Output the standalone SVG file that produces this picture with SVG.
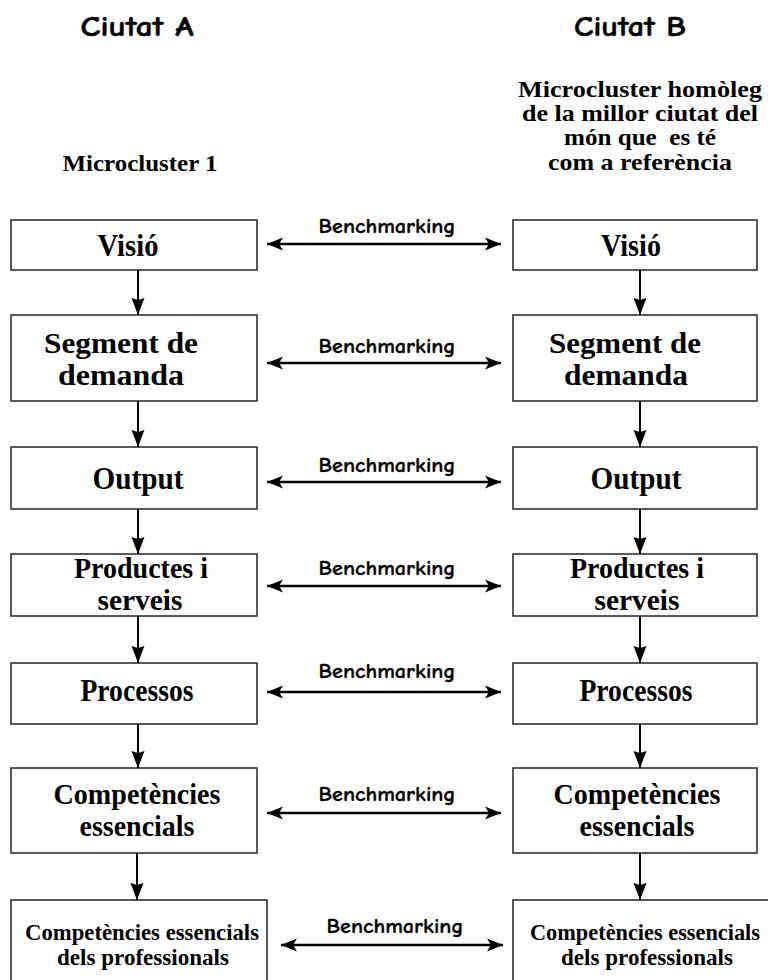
<svg xmlns="http://www.w3.org/2000/svg" width="768" height="980" viewBox="0 0 768 980">
<style>
.box{fill:#fff;stroke:#222;stroke-width:1.5}
.lbl{font-family:"Liberation Serif","Times New Roman",serif;font-weight:bold;font-size:31px;fill:#000;text-anchor:middle}
.two{font-size:29px}
.sm{font-size:23px}
.hd{font-family:"Liberation Serif","Times New Roman",serif;font-weight:bold;font-size:24px;fill:#000;text-anchor:middle}
.comic{font-family:"Comic Sans MS","Comic Neue","DejaVu Sans",sans-serif;font-weight:bold;fill:#000;stroke:#000;text-anchor:middle}
.bm{font-size:21px;stroke-width:0.3}
.city{font-size:29px;stroke-width:0.5}
.hline{stroke:#000;stroke-width:2.5;fill:none;marker-start:url(#hs);marker-end:url(#he)}
.vline{stroke:#000;stroke-width:2;fill:none;marker-end:url(#ve)}
</style>
<defs>
<marker id="he" markerUnits="userSpaceOnUse" markerWidth="18" markerHeight="16" refX="16" refY="7" orient="auto" viewBox="0 0 18 14">
<path d="M16,7 L0,0.5 L4,7 L0,13.5 Z" fill="#000"/>
</marker>
<marker id="hs" markerUnits="userSpaceOnUse" markerWidth="18" markerHeight="16" refX="16" refY="7" orient="auto-start-reverse" viewBox="0 0 18 14">
<path d="M16,7 L0,0.5 L4,7 L0,13.5 Z" fill="#000"/>
</marker>
<marker id="ve" markerUnits="userSpaceOnUse" markerWidth="18" markerHeight="14" refX="17" refY="7" orient="auto" viewBox="0 0 18 14">
<path d="M17,7 L0,0.5 L2,7 L0,13.5 Z" fill="#000"/>
</marker>
</defs>

<g id="header-a">
<text class="comic city" x="137" y="36" textLength="113" lengthAdjust="spacingAndGlyphs">Ciutat A</text>
<text class="hd" x="140" y="171" textLength="155" lengthAdjust="spacingAndGlyphs">Microcluster 1</text>
</g>
<g id="header-b">
<text class="comic city" x="630" y="36" textLength="112" lengthAdjust="spacingAndGlyphs">Ciutat B</text>
<text class="hd" x="640" y="97" textLength="244" lengthAdjust="spacingAndGlyphs">Microcluster homòleg</text>
<text class="hd" x="640" y="121" textLength="236" lengthAdjust="spacingAndGlyphs">de la millor ciutat del</text>
<text class="hd" x="640" y="145" textLength="152" lengthAdjust="spacingAndGlyphs" xml:space="preserve">món que  es té</text>
<text class="hd" x="640" y="170" textLength="184" lengthAdjust="spacingAndGlyphs">com a referència</text>
</g>

<g id="a-visio"><rect class="box" x="11" y="220" width="246" height="50"/><text class="lbl" x="128" y="256" textLength="61" lengthAdjust="spacingAndGlyphs">Visió</text></g>
<g id="a-segment"><rect class="box" x="11" y="315" width="246" height="86"/><text class="lbl two" x="121" y="353" textLength="154" lengthAdjust="spacingAndGlyphs">Segment de</text><text class="lbl two" x="121" y="385" textLength="126" lengthAdjust="spacingAndGlyphs">demanda</text></g>
<g id="a-output"><rect class="box" x="11" y="447" width="246" height="62"/><text class="lbl" x="138" y="489" textLength="91" lengthAdjust="spacingAndGlyphs">Output</text></g>
<g id="a-productes"><rect class="box" x="11" y="554" width="246" height="62"/><text class="lbl two" x="141" y="578" textLength="134" lengthAdjust="spacingAndGlyphs">Productes i</text><text class="lbl two" x="140" y="610" textLength="85" lengthAdjust="spacingAndGlyphs">serveis</text></g>
<g id="a-processos"><rect class="box" x="11" y="663" width="246" height="61"/><text class="lbl" x="137" y="701" textLength="113" lengthAdjust="spacingAndGlyphs">Processos</text></g>
<g id="a-competencies"><rect class="box" x="11" y="768" width="246" height="85"/><text class="lbl two" x="137" y="804" textLength="167" lengthAdjust="spacingAndGlyphs">Competències</text><text class="lbl two" x="137" y="836" textLength="115" lengthAdjust="spacingAndGlyphs">essencials</text></g>
<g id="a-professionals"><rect class="box" x="11" y="900" width="256" height="82"/><text class="lbl sm" x="142" y="940" textLength="234" lengthAdjust="spacingAndGlyphs">Competències essencials</text><text class="lbl sm" x="143" y="965" textLength="172" lengthAdjust="spacingAndGlyphs">dels professionals</text></g>

<g id="b-visio"><rect class="box" x="513" y="220" width="244" height="50"/><text class="lbl" x="631" y="256" textLength="60" lengthAdjust="spacingAndGlyphs">Visió</text></g>
<g id="b-segment"><rect class="box" x="513" y="315" width="244" height="86"/><text class="lbl two" x="625" y="353" textLength="152" lengthAdjust="spacingAndGlyphs">Segment de</text><text class="lbl two" x="626" y="385" textLength="124" lengthAdjust="spacingAndGlyphs">demanda</text></g>
<g id="b-output"><rect class="box" x="513" y="447" width="244" height="62"/><text class="lbl" x="636" y="489" textLength="91" lengthAdjust="spacingAndGlyphs">Output</text></g>
<g id="b-productes"><rect class="box" x="513" y="554" width="244" height="62"/><text class="lbl two" x="637" y="578" textLength="134" lengthAdjust="spacingAndGlyphs">Productes i</text><text class="lbl two" x="637" y="610" textLength="85" lengthAdjust="spacingAndGlyphs">serveis</text></g>
<g id="b-processos"><rect class="box" x="513" y="663" width="244" height="61"/><text class="lbl" x="636" y="701" textLength="113" lengthAdjust="spacingAndGlyphs">Processos</text></g>
<g id="b-competencies"><rect class="box" x="513" y="768" width="244" height="85"/><text class="lbl two" x="637" y="804" textLength="167" lengthAdjust="spacingAndGlyphs">Competències</text><text class="lbl two" x="637" y="836" textLength="115" lengthAdjust="spacingAndGlyphs">essencials</text></g>
<g id="b-professionals"><rect class="box" x="513" y="900" width="256" height="82"/><text class="lbl sm" x="645" y="940" textLength="230" lengthAdjust="spacingAndGlyphs">Competències essencials</text><text class="lbl sm" x="647" y="965" textLength="172" lengthAdjust="spacingAndGlyphs">dels professionals</text></g>

<g id="connectors">
<line class="vline" x1="138" y1="270" x2="138" y2="315"/>
<line class="vline" x1="138" y1="401" x2="138" y2="447"/>
<line class="vline" x1="138" y1="509" x2="138" y2="554"/>
<line class="vline" x1="138" y1="616" x2="138" y2="663"/>
<line class="vline" x1="138" y1="724" x2="138" y2="768"/>
<line class="vline" x1="137" y1="853" x2="137" y2="900"/>
<line class="vline" x1="640" y1="270" x2="640" y2="315"/>
<line class="vline" x1="640" y1="401" x2="640" y2="447"/>
<line class="vline" x1="640" y1="509" x2="640" y2="554"/>
<line class="vline" x1="640" y1="616" x2="640" y2="663"/>
<line class="vline" x1="640" y1="724" x2="640" y2="768"/>
<line class="vline" x1="640" y1="853" x2="640" y2="900"/>
<line class="hline" x1="267" y1="244" x2="501" y2="244"/>
<line class="hline" x1="267" y1="363" x2="501" y2="363"/>
<line class="hline" x1="267" y1="482" x2="501" y2="482"/>
<line class="hline" x1="267" y1="586" x2="501" y2="586"/>
<line class="hline" x1="267" y1="692" x2="501" y2="692"/>
<line class="hline" x1="267" y1="813" x2="501" y2="813"/>
<line class="hline" x1="281" y1="945" x2="503" y2="945"/>
<text class="comic bm" x="387" y="233" textLength="137" lengthAdjust="spacingAndGlyphs">Benchmarking</text>
<text class="comic bm" x="387" y="353" textLength="137" lengthAdjust="spacingAndGlyphs">Benchmarking</text>
<text class="comic bm" x="387" y="472" textLength="137" lengthAdjust="spacingAndGlyphs">Benchmarking</text>
<text class="comic bm" x="387" y="575" textLength="137" lengthAdjust="spacingAndGlyphs">Benchmarking</text>
<text class="comic bm" x="387" y="678" textLength="137" lengthAdjust="spacingAndGlyphs">Benchmarking</text>
<text class="comic bm" x="387" y="801" textLength="137" lengthAdjust="spacingAndGlyphs">Benchmarking</text>
<text class="comic bm" x="395" y="933" textLength="137" lengthAdjust="spacingAndGlyphs">Benchmarking</text>
</g>
</svg>
